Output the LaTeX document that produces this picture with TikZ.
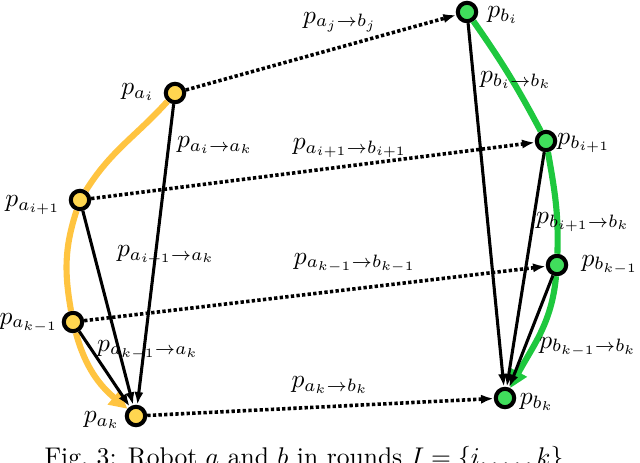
\documentclass[tikz,border=0pt]{standalone}
\usetikzlibrary{arrows.meta}
\definecolor{ryellow}{RGB}{255,214,80}
\definecolor{rorange}{RGB}{255,196,64}
\definecolor{rgreen}{RGB}{64,222,92}
\definecolor{rgreenarc}{RGB}{30,200,62}
\begin{document}
\begin{tikzpicture}[x=0.01375cm,y=0.01375cm]
  \tikzset{every path/.style={line width=1.2pt},
    pa/.style={circle,draw,line width=1.6pt,fill=ryellow,minimum size=7.2pt,inner sep=0pt},
    pb/.style={pa,fill=rgreen},
    move/.style={-{Latex[length=5pt,width=3.6pt]}},
    comm/.style={-{Latex[length=5pt,width=3.6pt]},line width=1.4pt,dash pattern=on 1.3pt off 0.9pt},
    traj/.style={line width=2.4pt,-{Triangle[length=7pt,width=7pt]}}}
  \useasboundingbox (0,0) rectangle (640,463);
  \node[pa] (ai)  at (175,370) {};
  \node[pa] (ai1) at ( 80,263) {};
  \node[pa] (ak1) at ( 73,141) {};
  \node[pa] (ak)  at (136, 47) {};
  \node[pb] (bi)  at (467,451) {};
  \node[pb] (bi1) at (546,322) {};
  \node[pb] (bk1) at (557,198) {};
  \node[pb] (bk)  at (505, 65) {};
  % trajectories
  \draw[traj,rorange] (ai) to[out=228,in=58] (ai1) to[out=252,in=100] (ak1) to[out=285,in=140] (ak);
  \draw[traj,rgreenarc] (bi) to[out=-55,in=118] (bi1) to[out=-80,in=88] (bk1) to[out=-95,in=62] (bk);
  % moves to the last round
  \draw[move] (ai) -- (ak);
  \draw[move] (ai1) -- (ak);
  \draw[move] (ak1) -- (ak);
  \draw[move] (bi) -- (bk);
  \draw[move] (bi1) -- (bk);
  \draw[move] (bk1) -- (bk);
  % a to b
  \draw[comm] (ai) -- (bi);
  \draw[comm] (ai1) -- (bi1);
  \draw[comm] (ak1) -- (bk1);
  \draw[comm] (ak) -- (bk);
  % labels
  \node (lai)  at (138,371) {$p_{a_i}$};
  \node (lai1) at ( 33,258) {$p_{a_{i+1}}$};
  \node (lak1) at ( 29,140) {$p_{a_{k-1}}$};
  \node (lak)  at (102, 43) {$p_{a_k}$};
  \node (lbi)  at (503,448) {$p_{b_i}$};
  \node (lbi1) at (584,320) {$p_{b_{i+1}}$};
  \node (lbk1) at (610,198) {$p_{b_{k-1}}$};
  \node (lbk)  at (537, 61) {$p_{b_k}$};
  \node (lajbj)   at (340,441) {$p_{a_j\to b_j}$};
  \node (laiak)   at (215,318) {$p_{a_i\to a_k}$};
  \node (lai1bi1) at (350,315) {$p_{a_{i+1}\to b_{i+1}}$};
  \node (lbibk)   at (516,383) {$p_{b_i\to b_k}$};
  \node (lai1ak)  at (166,208) {$p_{a_{i+1}\to a_k}$};
  \node (lak1bk1) at (355,200) {$p_{a_{k-1}\to b_{k-1}}$};
  \node (lbi1bk)  at (583,241) {$p_{b_{i+1}\to b_k}$};
  \node (lak1ak)  at (148,113) {$p_{a_{k-1}\to a_k}$};
  \node (lbk1bk)  at (588,116) {$p_{b_{k-1}\to b_k}$};
  \node (lakbk)   at (330, 78) {$p_{a_k\to b_k}$};
  \node[anchor=base west,inner sep=0pt] (caption) at (43,-3) {Fig.~3: Robot $a$ and $b$ in rounds $I=\{i,\dots,k\}$};
\end{tikzpicture}
\end{document}
